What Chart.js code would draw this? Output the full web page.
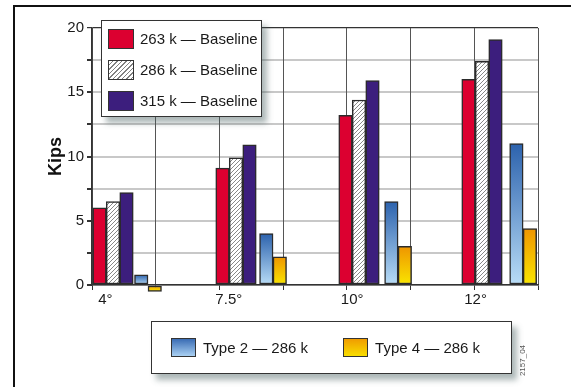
<!DOCTYPE html>
<html>
<head>
<meta charset="utf-8">
<script src="https://cdn.jsdelivr.net/npm/chart.js@4/dist/chart.umd.min.js"></script>
<style>
  body { margin: 0; background: #fff; }
  #wrap { position: relative; width: 571px; height: 387px; overflow: hidden; font-family: "Liberation Sans", Arial, sans-serif; color: #1a1a1a; }
  #frame { position: absolute; left: 13px; top: 5px; width: 600px; height: 400px; border-top: 2px solid #111; border-left: 2px solid #111; }
  canvas { position: absolute; left: 0; top: 0; }
  .legend { position: absolute; background: #fff; border: 1px solid #333; box-sizing: border-box; box-shadow: 5px 6px 6px rgba(70, 95, 95, 0.45); font-size: 15px; }
  #legendTop { left: 101px; top: 20px; width: 161px; height: 97px; padding: 2px 0 0 6px; }
  #legendTop .row { display: flex; align-items: center; height: 31px; }
  #legendBottom { left: 151px; top: 321px; width: 361px; height: 53px; padding-left: 19px; display: flex; align-items: center; }
  .sw { box-sizing: border-box; border: 1.5px solid #333; flex: none; }
  #legendTop .sw { width: 26px; height: 20px; margin-right: 6px; }
  #legendBottom .sw { width: 25px; height: 19px; margin-right: 7px; }
  #legendBottom .item { display: flex; align-items: center; }
  #legendBottom .item + .item { margin-left: 35px; }
  #code { position: absolute; left: 507px; top: 356px; font-size: 8px; color: #555; transform: rotate(-90deg); transform-origin: center; }
</style>
</head>
<body>
<div id="wrap">
  <div id="frame"></div>
  <canvas id="chart" width="571" height="387"></canvas>
  <div class="legend" id="legendTop"></div>
  <div class="legend" id="legendBottom"></div>
  <div id="code">2157_04</div>
</div>
<script>
const categories = ['4°', '7.5°', '10°', '12°'];
const baseline263 = [6.0, 9.1, 13.2, 16.0];
const baseline286 = [6.5, 9.9, 14.4, 17.4];
const baseline315 = [7.2, 10.9, 15.9, 19.1];
const type2at286 = [0.8, 4.0, 6.5, 11.0];
const type4at286 = [-0.5, 2.2, 3.0, 4.4];
const yLabelStep = 5;

const baselineLabels = ['263 k — Baseline', '286 k — Baseline', '315 k — Baseline'];
const typeLabels = ['Type 2 — 286 k', 'Type 4 — 286 k'];

const RED = '#dc0030';
const PURPLE = '#3c1e7d';
const EDGE = '#2b2b2b';

// plot box and group layout (pixels)
const PLOT_LEFT = 92, PLOT_W = 446;
const BAR_W = 13.5;
const LABEL_FIRST = 105.4, LABEL_STEP = 123.4;  // category label centres
const BASE_FIRST = 113.0, BASE_STEP = 123.0;    // baseline triple centres
const TYPE_FIRST = 148.0, TYPE_STEP = 125.05;   // type pair centres

// hidden linear axis that puts category i at first + i*step + shift
function slotAxis(first, step, shift) {
    const min = -(first + shift - PLOT_LEFT) / step;
    return { type: 'linear', display: false, offset: false, min: min, max: min + PLOT_W / step, grid: { offset: false } };
}

function makeHatch() {
    const c = document.createElement('canvas');
    c.width = 4; c.height = 4;
    const g = c.getContext('2d');
    g.fillStyle = '#fff';
    g.fillRect(0, 0, 4, 4);
    g.strokeStyle = '#7a7a7a';
    g.lineWidth = 0.9;
    g.beginPath();
    g.moveTo(0, 4); g.lineTo(4, 0);
    g.moveTo(-1, 1); g.lineTo(1, -1);
    g.moveTo(3, 5); g.lineTo(5, 3);
    g.stroke();
    return g.createPattern(c, 'repeat');
}

// per-bar vertical gradient, top colour to bottom colour
function vGrad(top, bottom) {
    return (ctx) => {
        const chart = ctx.chart;
        if (ctx.type !== 'data' || !chart.chartArea) return top;
        const y = chart.scales.y;
        const p0 = y.getPixelForValue(0);
        const p1 = y.getPixelForValue(ctx.parsed.y);
        const g = chart.ctx.createLinearGradient(0, Math.min(p0, p1), 0, Math.max(p0, p1) || 1);
        g.addColorStop(0, top);
        g.addColorStop(1, bottom);
        return g;
    };
}

const points = arr => arr.map((v, i) => ({ x: i, y: v }));

const hatch = makeHatch();

const common = { borderColor: EDGE, borderWidth: 1.5, borderSkipped: false, barThickness: BAR_W, grouped: false };

new Chart(document.getElementById('chart').getContext('2d'), {
    type: 'bar',
    data: {
        datasets: [
            { label: baselineLabels[0], data: points(baseline263), backgroundColor: RED, xAxisID: 'b0', ...common },
            { label: baselineLabels[1], data: points(baseline286), backgroundColor: hatch, xAxisID: 'b1', ...common },
            { label: baselineLabels[2], data: points(baseline315), backgroundColor: PURPLE, xAxisID: 'b2', ...common },
            { label: typeLabels[0], data: points(type2at286), backgroundColor: vGrad('#2c62ad', '#b9ddf7'), xAxisID: 't0', ...common },
            { label: typeLabels[1], data: points(type4at286), backgroundColor: vGrad('#ef9500', '#f9e600'), xAxisID: 't1', clip: false, ...common }
        ]
    },
    options: {
        responsive: false,
        animation: false,
        devicePixelRatio: 1,
        layout: { padding: { left: 0, top: 28, right: 33, bottom: 67 } },
        plugins: { legend: { display: false }, tooltip: { enabled: false } },
        scales: {
            y: {
                min: 0, max: 20,
                afterFit: s => { s.width = PLOT_LEFT; },
                ticks: {
                    stepSize: 2.5,
                    color: '#1a1a1a',
                    font: { family: 'Liberation Sans', size: 15 },
                    padding: 3,
                    callback: v => (v % yLabelStep === 0 ? v : '')
                },
                grid: {
                    color: ctx => (ctx.tick && ctx.tick.value === 20 ? '#333' : '#c8c8c8'),
                    lineWidth: ctx => (ctx.tick && ctx.tick.value === 20 ? 1.2 : 2),
                    tickColor: '#333',
                    tickLength: 5
                },
                border: { color: '#333', width: 1.5 },
                title: {
                    display: true, text: 'Kips', color: '#111',
                    font: { family: 'Liberation Sans', size: 18, weight: 'bold' },
                    padding: { top: 45 }
                }
            },
            xg: {
                type: 'linear', position: 'bottom', weight: 0,
                min: 0, max: 7, offset: false,
                ticks: { display: false, stepSize: 1 },
                grid: { offset: false, color: '#555', lineWidth: 1, tickColor: '#333', tickLength: 5 },
                border: { color: '#333', width: 1.5 }
            },
            x: {
                ...slotAxis(LABEL_FIRST, LABEL_STEP, 0),
                display: true, position: 'bottom', weight: 1,
                afterFit: s => { s.height = 30; },
                ticks: {
                    stepSize: 1, includeBounds: false, padding: 1,
                    color: '#1a1a1a',
                    font: { family: 'Liberation Sans', size: 15 },
                    callback: v => (Number.isInteger(v) && categories[v] ? categories[v] : '')
                },
                grid: { display: false, drawTicks: false, offset: false },
                border: { display: false }
            },
            b0: slotAxis(BASE_FIRST, BASE_STEP, -BAR_W),
            b1: slotAxis(BASE_FIRST, BASE_STEP, 0),
            b2: slotAxis(BASE_FIRST, BASE_STEP, BAR_W),
            t0: slotAxis(TYPE_FIRST, TYPE_STEP, -BAR_W / 2),
            t1: slotAxis(TYPE_FIRST, TYPE_STEP, BAR_W / 2)
        }
    }
});

// HTML legends
const legendTop = document.getElementById('legendTop');
const topFills = [RED, 'repeating-linear-gradient(135deg, #fff 0 2.2px, #808080 2.2px 3.2px)', PURPLE];
baselineLabels.forEach((t, i) => {
    const row = document.createElement('div');
    row.className = 'row';
    row.innerHTML = '<span class="sw" style="background:' + topFills[i] + '"></span><span>' + t + '</span>';
    legendTop.appendChild(row);
});
const legendBottom = document.getElementById('legendBottom');
const bottomFills = ['linear-gradient(#3a6cb4, #a9d0f2)', 'linear-gradient(#f09c00, #f8de00)'];
typeLabels.forEach((t, i) => {
    const item = document.createElement('div');
    item.className = 'item';
    item.innerHTML = '<span class="sw" style="background:' + bottomFills[i] + '"></span><span>' + t + '</span>';
    legendBottom.appendChild(item);
});
</script>
</body>
</html>
